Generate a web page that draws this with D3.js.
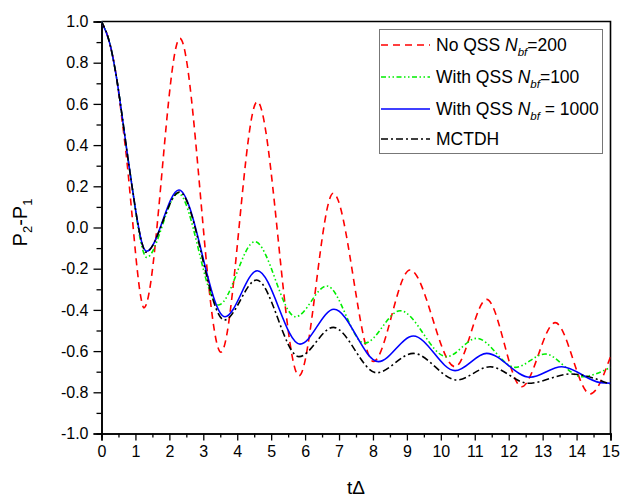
<!DOCTYPE html>
<html>
<head>
<meta charset="utf-8">
<script src="https://cdn.jsdelivr.net/npm/d3@7"></script>
<style>
  html, body { margin: 0; padding: 0; background: #fff; }
  svg { display: block; font-family: "Liberation Sans", Arial, sans-serif; }
</style>
</head>
<body>
<div id="chart"></div>
<script>
// ---- data ----
const tNoQSS = [0, 0.25, 0.45, 0.6, 0.75, 0.9, 1.05, 1.15, 1.25, 2.31, 3.52, 4.59, 5.82, 6.83, 8.01, 9.09, 10.42, 11.35, 12.38, 13.37, 14.4, 15];
const vNoQSS = [1, 0.89, 0.72, 0.53, 0.32, 0.06, -0.2, -0.33, -0.39, 0.918, -0.605, 0.611, -0.72, 0.166, -0.65, -0.206, -0.676, -0.349, -0.773, -0.462, -0.808, -0.627];

const tQSS100 = [0, 0.25, 0.45, 0.6, 0.75, 0.9, 1.05, 1.2, 1.33, 2.26, 3.45, 4.52, 5.72, 6.64, 7.75, 8.8, 10.17, 11.06, 12.19, 13.07, 14.15, 15];
const vQSS100 = [1, 0.89, 0.72, 0.55, 0.37, 0.2, 0.03, -0.1, -0.145, 0.166, -0.376, -0.069, -0.433, -0.284, -0.562, -0.404, -0.627, -0.538, -0.679, -0.614, -0.724, -0.679];

const tQSS1000 = [0, 0.25, 0.45, 0.6, 0.75, 0.9, 1.05, 1.2, 1.33, 2.28, 3.64, 4.59, 5.85, 6.85, 8.16, 9.19, 10.42, 11.35, 12.63, 13.56, 14.7, 15];
const vQSS1000 = [1, 0.89, 0.72, 0.55, 0.37, 0.2, 0.04, -0.08, -0.115, 0.182, -0.433, -0.21, -0.566, -0.397, -0.651, -0.527, -0.695, -0.611, -0.727, -0.676, -0.753, -0.756];

const tMCTDH = [0, 0.25, 0.45, 0.6, 0.75, 0.9, 1.05, 1.2, 1.3, 2.3, 3.62, 4.57, 5.82, 6.83, 8.11, 9.19, 10.47, 11.45, 12.58, 13.84, 15];
const vMCTDH = [1, 0.89, 0.72, 0.55, 0.37, 0.2, 0.04, -0.08, -0.12, 0.172, -0.449, -0.255, -0.627, -0.485, -0.705, -0.611, -0.74, -0.676, -0.756, -0.711, -0.762];

const xTicks = [0,1,2,3,4,5,6,7,8,9,10,11,12,13,14,15];
const yTicks = [-1.0,-0.8,-0.6,-0.4,-0.2,0.0,0.2,0.4,0.6,0.8,1.0];

const seriesNames = ["No QSS", "With QSS", "With QSS", "MCTDH"];
const seriesSuffix = ["=200", "=100", " = 1000", ""];

// ---- layout ----
const W = 622, H = 497;
const mLeft = 101.5, mRight = 610.5, mTop = 21.5, mBottom = 433.5;

const svg = d3.select("#chart").append("svg").attr("width", W).attr("height", H);

const x = d3.scaleLinear().domain([0, 15]).range([mLeft, mRight]);
const y = d3.scaleLinear().domain([-1, 1]).range([mBottom, mTop]);

// frame (top & right)
svg.append("path")
  .attr("d", `M${mLeft},${mTop}H${mRight}V${mBottom}`)
  .attr("fill", "none").attr("stroke", "#000").attr("stroke-width", 1.6);

// x axis
const xAxis = d3.axisBottom(x).tickValues(xTicks).tickFormat(d3.format("d")).tickSize(7).tickPadding(5);
const gx = svg.append("g").attr("transform", `translate(0,${mBottom})`).call(xAxis);
const xMinor = d3.axisBottom(x).tickValues(xTicks.slice(0, -1).map(d => d + 0.5)).tickFormat("").tickSize(4);
const gxm = svg.append("g").attr("transform", `translate(0,${mBottom})`).call(xMinor);

// y axis
const yAxis = d3.axisLeft(y).tickValues(yTicks).tickFormat(d3.format(".1f")).tickSize(8).tickPadding(5);
const gy = svg.append("g").attr("transform", `translate(${mLeft},0)`).call(yAxis);
const yMinor = d3.axisLeft(y).tickValues(yTicks.slice(0, -1).map(d => d + 0.1)).tickFormat("").tickSize(5);
const gym = svg.append("g").attr("transform", `translate(${mLeft},0)`).call(yMinor);

[gx, gxm, gy, gym].forEach(g => {
  g.select(".domain").attr("stroke", "#000").attr("stroke-width", 1.6);
  g.selectAll(".tick line").attr("stroke", "#000").attr("stroke-width", 1.3);
  g.selectAll(".tick text").attr("fill", "#000").style("font-size", "16px")
    .style("font-family", '"Liberation Sans", Arial, sans-serif');
});
gy.selectAll(".tick text").text(d => d3.format(".1f")(d).replace("−", "-"));

// axis titles
svg.append("text")
  .attr("x", (mLeft + mRight) / 2).attr("y", 494)
  .attr("text-anchor", "middle").style("font-size", "19px").attr("fill", "#000")
  .text("tΔ");

const yt = svg.append("text")
  .attr("transform", `translate(27,${(mTop + mBottom) / 2 - 5}) rotate(-90)`)
  .attr("text-anchor", "middle").style("font-size", "20px").attr("fill", "#000");
yt.append("tspan").text("P");
yt.append("tspan").attr("dy", 5).style("font-size", "13px").text("2");
yt.append("tspan").attr("dy", -5).text("-P");
yt.append("tspan").attr("dy", 5).style("font-size", "13px").text("1");

// lines
const line = d3.line().curve(d3.curveMonotoneX);
const series = [
  { t: tNoQSS,   v: vNoQSS,   color: "#ff0000", dash: "7,5" },
  { t: tQSS100,  v: vQSS100,  color: "#00ee00", dash: "5,2.5,1.5,2.5,1.5,2.5" },
  { t: tQSS1000, v: vQSS1000, color: "#0000ff", dash: null },
  { t: tMCTDH,   v: vMCTDH,   color: "#000000", dash: "7,3,2,3" }
];
svg.append("clipPath").attr("id", "clip").append("rect")
  .attr("x", mLeft).attr("y", mTop - 2).attr("width", mRight - mLeft).attr("height", mBottom - mTop + 4);

series.forEach(s => {
  svg.append("path")
    .attr("clip-path", "url(#clip)")
    .attr("d", line(s.t.map((t, i) => [x(t), y(s.v[i])])))
    .attr("fill", "none").attr("stroke", s.color).attr("stroke-width", 1.6)
    .attr("stroke-dasharray", s.dash);
});

// legend
const lg = svg.append("g");
lg.append("rect").attr("x", 379.5).attr("y", 29.5).attr("width", 223).attr("height", 124)
  .attr("fill", "#fff").attr("stroke", "#777").attr("stroke-width", 1);
const rowY = [45, 77, 109, 139];
series.forEach((s, i) => {
  lg.append("line").attr("x1", 381).attr("x2", 430).attr("y1", rowY[i]).attr("y2", rowY[i])
    .attr("stroke", s.color).attr("stroke-width", 1.6).attr("stroke-dasharray", s.dash);
  const tx = lg.append("text").attr("x", 436).attr("y", rowY[i] + 6)
    .style("font-size", "17.5px").attr("fill", "#000");
  if (i < 3) {
    tx.append("tspan").text(seriesNames[i] + " ");
    tx.append("tspan").style("font-style", "italic").text("N");
    tx.append("tspan").attr("dy", 5).style("font-style", "italic").style("font-size", "11.5px").text("bf");
    tx.append("tspan").attr("dy", -5).text(seriesSuffix[i]);
  } else {
    tx.text(seriesNames[i]);
  }
});
</script>
</body>
</html>
